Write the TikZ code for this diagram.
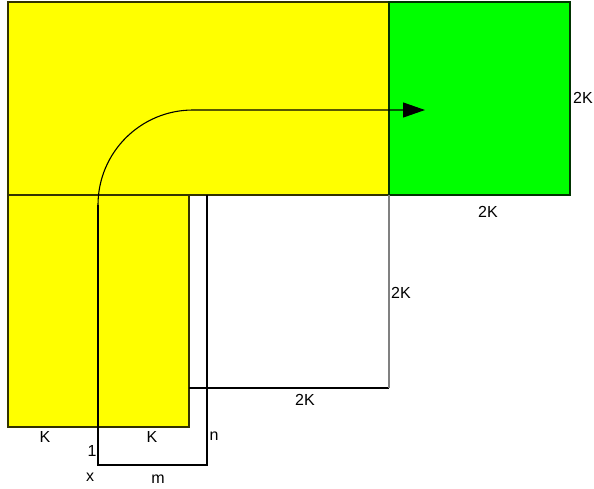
\documentclass[tikz,border=0pt]{standalone}
\usepackage{fontspec}
\setmainfont{Liberation Sans}
\usetikzlibrary{arrows.meta,positioning}
\definecolor{boxyellow}{RGB}{255,255,0}
\definecolor{boxgreen}{RGB}{0,255,0}
\tikzset{
  yelbox/.style={fill=boxyellow, draw=black!80!boxyellow, line width=1.2pt},
  grnbox/.style={fill=boxgreen, draw=black!80!boxgreen, line width=1.2pt},
  edge/.style={draw=black, line width=1.1pt},
  greyedge/.style={draw=black!50, line width=1.2pt},
  lbl/.style={font=\fontsize{16}{19}\selectfont, inner sep=0pt}
}
\begin{document}
\begin{tikzpicture}[x=1pt, y=-1pt]
\useasboundingbox (0,0) rectangle (594,488);
% blocks
\draw[yelbox] (8,2) rectangle (389,195);
\draw[grnbox] (389,2) rectangle (570,195);
\draw[yelbox] (8,195) rectangle (189,427);
% empty square
\coordinate (sqa) at (189,388);
\coordinate (sqb) at (389,388);
\coordinate (sqc) at (389,195);
\draw[edge] (sqa) -- (sqb);
\draw[greyedge] (sqb) -- (sqc);
% small box below
\coordinate (pa) at (98,205);
\coordinate (pb) at (98,465);
\coordinate (pc) at (207,465);
\coordinate (pd) at (207,195);
\draw[edge] (pa) -- (pb) -- (pc) -- (pd);
% path with arrow
\coordinate (tip) at (425,110);
\draw[edge, -{Triangle[length=22pt, width=15pt]}] (pa) arc[start angle=180, end angle=270, radius=95] -- (tip);
% labels
\node[lbl] (k1) at (45,437) {K};
\node[lbl] (k2) at (152,437) {K};
\node[lbl] (one) at (92,451) {1};
\node[lbl] (nn) at (214,436) {n};
\node[lbl] (xx) at (90,477) {x};
\node[lbl] (mm) at (158,479) {m};
\node[lbl] (sqbot) at (305,400) {2K};
\node[lbl] (sqright) at (401,293) {2K};
\node[lbl] (grbot) at (488,212) {2K};
\node[lbl] (grright) at (583,98) {2K};
\end{tikzpicture}
\end{document}
